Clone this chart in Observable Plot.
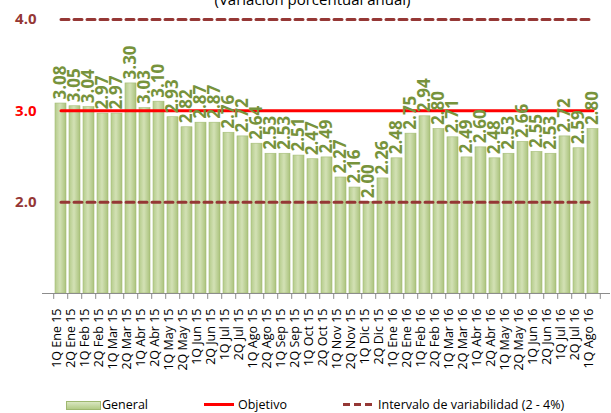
<!DOCTYPE html>
<html>
<head>
<meta charset="utf-8">
<script src="https://cdn.jsdelivr.net/npm/d3@7"></script>
<script src="https://cdn.jsdelivr.net/npm/@observablehq/plot@0.6"></script>
<style>
  body { margin: 0; background: white; width: 611px; height: 413px; overflow: hidden; font-family: "Open Sans", sans-serif; }
  #legend { position: relative; height: 18px; font-size: 12.5px; color: #000; }
  #legend span { position: absolute; top: 1px; }
  #legend .sw { position: absolute; }
</style>
</head>
<body>
<div id="chart"></div>
<div id="legend">
  <div class="sw" style="left:66px;top:6px;width:33px;height:7px;background:linear-gradient(#d9e6c0,#b3cb86);border:0.5px solid #9fb870;"></div>
  <span style="left:102px;">General</span>
  <div class="sw" style="left:204px;top:8px;width:30px;height:3px;background:#ff0000;"></div>
  <span style="left:238px;">Objetivo</span>
  <div class="sw" style="left:343px;top:8px;width:30px;height:3px;background:repeating-linear-gradient(90deg,#953735 0 7px,transparent 7px 11px);"></div>
  <span style="left:378px;">Intervalo de variabilidad (2 - 4%)</span>
</div>
<script>
const categories = [
  "1Q Ene 15","2Q Ene 15","1Q Feb 15","2Q Feb 15","1Q Mar 15","2Q Mar 15",
  "1Q Abr 15","2Q Abr 15","1Q May 15","2Q May 15","1Q Jun 15","2Q Jun 15",
  "1Q Jul 15","2Q Jul 15","1Q Ago 15","2Q Ago 15","1Q Sep 15","2Q Sep 15",
  "1Q Oct 15","2Q Oct 15","1Q Nov 15","2Q Nov 15","1Q Dic 15","2Q Dic 15",
  "1Q Ene 16","2Q Ene 16","1Q Feb 16","2Q Feb 16","1Q Mar 16","2Q Mar 16",
  "1Q Abr 16","2Q Abr 16","1Q May 16","2Q May 16","1Q Jun 16","2Q Jun 16",
  "1Q Jul 16","2Q Jul 16","1Q Ago 16"
];
const general = [
  3.08,3.05,3.04,2.97,2.97,3.30,
  3.03,3.10,2.93,2.82,2.87,2.87,
  2.76,2.72,2.64,2.53,2.53,2.51,
  2.47,2.49,2.27,2.16,2.00,2.26,
  2.48,2.75,2.94,2.80,2.71,2.49,
  2.60,2.48,2.53,2.66,2.55,2.53,
  2.72,2.59,2.80
];
const objetivo = 3.0;
const intervalo = [2.0, 4.0];
const yTicks = [2.0, 3.0, 4.0];
const title = "(Variación porcentual anual)";

const data = categories.map((c, i) => ({cat: c, value: general[i]}));
const width = 611, height = 395, mL = 42, mR = 1;
const step = (width - mL - mR) / categories.length;
const last = categories[categories.length - 1];
const darkRed = "#953735";

const chart = Plot.plot({
  width, height,
  marginLeft: mL, marginRight: mR, marginTop: 19, marginBottom: 102,
  x: {domain: categories, padding: 0.24, axis: null},
  y: {domain: [1, 4], axis: null},
  style: {fontFamily: "Open Sans, sans-serif", background: "white", overflow: "visible"},
  marks: [
    Plot.barY(data, {x: "cat", y1: 1, y2: "value", fill: "url(#barGrad)", stroke: "#a3bc74", strokeWidth: 0.6}),
    Plot.ruleY([1], {stroke: "#8c8c8c", strokeWidth: 1}),
    Plot.ruleX(categories, {x: d => d, y1: 1, y2: 0.935, dx: -step / 2, stroke: "#8c8c8c"}),
    Plot.ruleX([last], {x: d => d, y1: 1, y2: 0.935, dx: step / 2, stroke: "#8c8c8c"}),
    Plot.lineY(categories, {x: d => d, y: () => intervalo[0], stroke: darkRed, strokeWidth: 3, strokeDasharray: "8,5"}),
    Plot.lineY(categories, {x: d => d, y: () => intervalo[1], stroke: darkRed, strokeWidth: 3, strokeDasharray: "8,5"}),
    Plot.lineY(categories, {x: d => d, y: () => objetivo, stroke: "#ff0000", strokeWidth: 3}),
    Plot.text(data, {x: "cat", y: "value", text: d => d.value.toFixed(2), rotate: -90, textAnchor: "start", dy: -4, fill: "#77933c", fontWeight: "bold", fontSize: 17}),
    Plot.text(categories, {x: d => d, frameAnchor: "bottom", dy: 15, rotate: -90, textAnchor: "end", fontSize: 12.5, fill: "#000"}),
    Plot.text(yTicks.filter(t => t !== objetivo), {y: d => d, text: d => d.toFixed(1), frameAnchor: "left", dx: -6, textAnchor: "end", fill: darkRed, fontWeight: "bold", fontSize: 15}),
    Plot.text(yTicks.filter(t => t === objetivo), {y: d => d, text: d => d.toFixed(1), frameAnchor: "left", dx: -6, textAnchor: "end", fill: "#ff0000", fontWeight: "bold", fontSize: 15}),
    Plot.text([title], {text: d => d, frameAnchor: "top", dx: -14, dy: -15, lineAnchor: "bottom", fontSize: 15, fill: "#000"})
  ]
});

const defs = d3.select(chart).insert("defs", ":first-child");
const g = defs.append("linearGradient").attr("id", "barGrad").attr("x1", 0).attr("x2", 1).attr("y1", 0).attr("y2", 0);
g.append("stop").attr("offset", "0%").attr("stop-color", "#b4cb8a");
g.append("stop").attr("offset", "45%").attr("stop-color", "#d3e1b5");
g.append("stop").attr("offset", "100%").attr("stop-color", "#aac27c");

document.getElementById("chart").appendChild(chart);
</script>
</body>
</html>
